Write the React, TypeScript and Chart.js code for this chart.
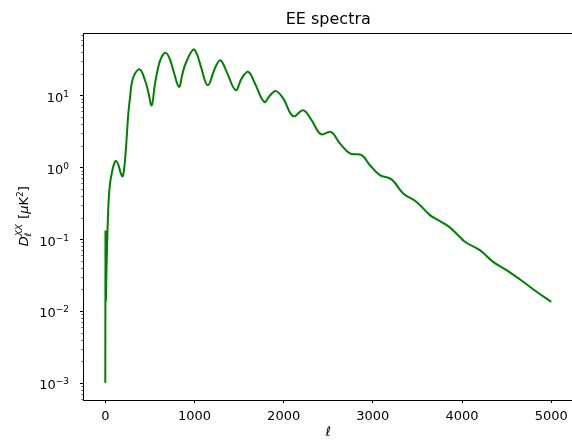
import React, { useEffect, useRef } from "react";
import { Chart, registerables } from "chart.js";

Chart.register(...registerables);

// multipole values (ell) and EE spectrum values D_ell [muK^2]
const ell = [
  0, 2, 6, 14, 22, 34, 50, 72, 95, 120, 150, 175, 195, 215, 228, 240, 258, 280,
  296, 333, 389, 445, 480, 520, 555, 594, 630, 677, 720, 762, 826, 865, 901,
  987, 1030, 1073, 1148, 1230, 1290, 1361, 1462, 1529, 1603, 1678, 1782, 1846,
  1913, 1995, 2107, 2219, 2313, 2418, 2530, 2631, 2743, 2874, 2967, 3079, 3210,
  3341, 3490, 3640, 3733, 3845, 3968, 4032, 4200, 4349, 4499, 4686, 4836, 5000,
];
const dEE = [
  0.001, 0.125, 0.0142, 0.04, 0.097, 0.28, 0.55, 0.82, 1.08, 1.23, 1.05, 0.82,
  0.75, 1.05, 1.6, 2.6, 5.6, 10, 14.7, 20.2, 23.0, 16.3, 11.5, 7.3, 14, 25, 34,
  39.2, 33, 22.5, 13.2, 20, 27.9, 43.6, 37, 25, 13.9, 24, 31, 21.3, 11.9, 17.3,
  21.3, 14.7, 8.15, 10, 11.5, 9.1, 5.15, 6.24, 4.53, 2.89, 3.11, 2.15, 1.56,
  1.48, 1.07, 0.78, 0.68, 0.433, 0.33, 0.216, 0.184, 0.152, 0.11, 0.092, 0.0703,
  0.0483, 0.037, 0.0255, 0.0185, 0.0134,
];
const xTicks = [0, 1000, 2000, 3000, 4000, 5000];
const yMajorExps = [-3, -2, -1, 0, 1];
const titleText = "EE spectra";
const xLabel = "ℓ";

const X_MIN = -250;
const X_MAX = 5250;
const Y_MIN = Math.pow(10, -3.232);
const Y_MAX = Math.pow(10, 1.87);

const FONT = '"DejaVu Sans", sans-serif';

const mplPlugin = {
  id: "mplFrame",
  afterDraw(chart: any) {
    const { ctx, chartArea: a, scales } = chart;
    const y = scales.y;
    ctx.save();
    // frame
    ctx.strokeStyle = "#000";
    ctx.lineWidth = 1;
    ctx.strokeRect(Math.round(a.left) + 0.5, Math.round(a.top) + 0.5, Math.round(a.right - a.left), Math.round(a.bottom - a.top));
    const lx = Math.round(a.left) + 0.5;
    // y ticks (major + minor)
    for (let e = -4; e <= 2; e++) {
      for (let m = 1; m <= 9; m++) {
        const v = m * Math.pow(10, e);
        if (v < Y_MIN || v > Y_MAX) continue;
        const py = Math.round(y.getPixelForValue(v)) + 0.5;
        const len = m === 1 ? 3.5 : 2;
        ctx.lineWidth = m === 1 ? 1 : 0.7;
        ctx.beginPath();
        ctx.moveTo(lx, py);
        ctx.lineTo(lx - len, py);
        ctx.stroke();
      }
    }
    // y tick labels
    ctx.fillStyle = "#000";
    ctx.textBaseline = "alphabetic";
    ctx.textAlign = "left";
    const right = 69;
    for (const e of yMajorExps) {
      const py = y.getPixelForValue(Math.pow(10, e));
      const expStr = e < 0 ? "\u2212" + String(-e) : String(e);
      ctx.font = `13px ${FONT}`;
      const wBase = ctx.measureText("10").width;
      ctx.font = `9px ${FONT}`;
      const wExp = ctx.measureText(expStr).width;
      const x0 = right - wBase - wExp;
      const base = py + 6.4;
      ctx.font = `13px ${FONT}`;
      ctx.fillText("10", x0, base);
      ctx.font = `9px ${FONT}`;
      ctx.fillText(expStr, x0 + wBase, base - 5);
    }
    // y axis title: D_ell^{XX} [muK^2]
    const cy = (a.top + a.bottom) / 2;
    ctx.translate(27.5, cy);
    ctx.rotate(-Math.PI / 2);
    const big = `13px ${FONT}`;
    const bigI = `italic 13px ${FONT}`;
    const small = `9px ${FONT}`;
    const smallI = `italic 9px ${FONT}`;
    const meas = (f: string, t: string) => {
      ctx.font = f;
      return ctx.measureText(t).width;
    };
    const wD = meas(bigI, "D");
    const wSub = meas(smallI, "ℓ");
    const wSup = meas(smallI, "XX");
    const wScript = Math.max(wSub, wSup) + 1;
    const wOpen = meas(big, " [");
    const wMu = meas(bigI, "μ");
    const wK = meas(big, "K");
    const w2 = meas(small, "2");
    const wClose = meas(big, "]");
    const total = wD + wScript + wOpen + wMu + wK + w2 + wClose;
    let x = -total / 2;
    ctx.font = bigI;
    ctx.fillText("D", x, 0);
    x += wD;
    ctx.font = smallI;
    ctx.fillText("ℓ", x, 3);
    ctx.fillText("XX", x, -5.5);
    x += wScript;
    ctx.font = big;
    ctx.fillText(" [", x, 0);
    x += wOpen;
    ctx.font = bigI;
    ctx.fillText("μ", x, 0);
    x += wMu;
    ctx.font = big;
    ctx.fillText("K", x, 0);
    x += wK;
    ctx.font = small;
    ctx.fillText("2", x, -5);
    x += w2;
    ctx.font = big;
    ctx.fillText("]", x, 0);
    ctx.restore();
  },
};

export default function App() {
  const ref = useRef<HTMLCanvasElement | null>(null);
  useEffect(() => {
    if (!ref.current) return;
    const chart = new Chart(ref.current, {
      type: "line",
      data: {
        datasets: [
          {
            data: ell.map((l, i) => ({ x: l, y: dEE[i] })),
            borderColor: "#008000",
            borderWidth: 2,
            pointRadius: 0,
            fill: false,
            tension: 0.4,
            borderJoinStyle: "round",
          },
        ],
      },
      options: {
        animation: false,
        responsive: false,
        devicePixelRatio: 1,
        layout: { padding: { left: 0, right: 6.5, top: 0, bottom: 0 } },
        plugins: {
          legend: { display: false },
          tooltip: { enabled: false },
          title: {
            display: true,
            text: titleText,
            fullSize: false,
            color: "#000",
            font: { size: 16, family: FONT, weight: "normal" },
            padding: { top: 9.9, bottom: 3.9 },
          },
        },
        scales: {
          x: {
            type: "linear",
            min: X_MIN,
            max: X_MAX,
            afterBuildTicks: (s: any) => {
              s.ticks = xTicks.map((v) => ({ value: v }));
            },
            afterFit: (s: any) => {
              s.height = 40.5;
            },
            border: { display: false },
            grid: {
              display: true,
              drawOnChartArea: false,
              drawTicks: true,
              tickLength: 3.5,
              tickColor: "#000",
              tickWidth: 1,
            },
            ticks: {
              autoSkip: false,
              maxRotation: 0,
              color: "#000",
              padding: 5.4,
              font: { size: 13, family: FONT },
              callback: (v: any) => String(v),
            },
            title: {
              display: true,
              text: xLabel,
              color: "#000",
              font: { size: 13, family: FONT, style: "italic" },
              padding: { top: 0, bottom: 0 },
            },
          },
          y: {
            type: "logarithmic",
            min: Y_MIN,
            max: Y_MAX,
            afterFit: (s: any) => {
              s.width = 83;
            },
            border: { display: false },
            grid: { display: false },
            ticks: { display: false },
          },
        },
      },
      plugins: [mplPlugin],
    } as any);
    return () => chart.destroy();
  }, []);
  return (
    <div
      style={{
        position: "fixed",
        left: 0,
        top: 0,
        width: 572,
        height: 440,
        overflow: "hidden",
        background: "#fff",
      }}
    >
      <canvas
        ref={ref}
        width={580}
        height={440}
        style={{ display: "block", width: 580, height: 440 }}
      />
    </div>
  );
}
